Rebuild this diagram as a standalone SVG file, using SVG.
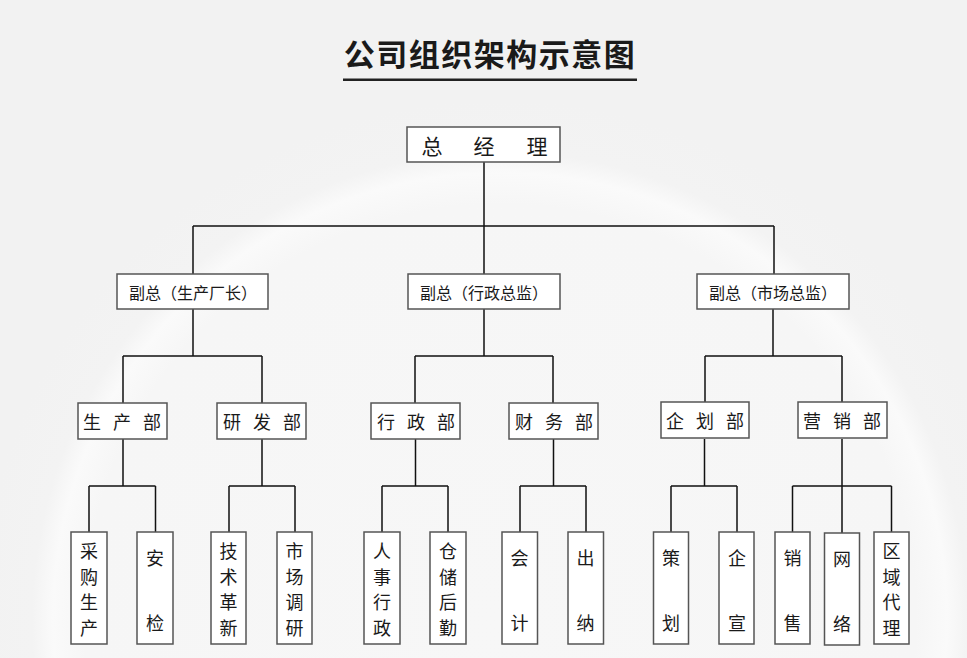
<svg xmlns="http://www.w3.org/2000/svg" width="967" height="658" viewBox="0 0 967 658">
<defs>
<radialGradient id="bg" cx="500" cy="620" r="520" gradientUnits="userSpaceOnUse">
<stop offset="0" stop-color="#f7f7f7"/>
<stop offset="0.8" stop-color="#f6f6f6"/>
<stop offset="0.86" stop-color="#fafafa"/>
<stop offset="0.9" stop-color="#f3f3f3"/>
<stop offset="1" stop-color="#f2f2f2"/>
</radialGradient>
<style>
.box{fill:#ffffff;stroke:#555555;stroke-width:1.5}
.t{font-family:"Noto Sans CJK SC","Noto Sans",sans-serif;fill:#1a1a1a;text-anchor:middle;dominant-baseline:central}
.top{font-size:21px}
.vp{font-size:16px}
.dp{font-size:18px}
.lf{font-size:18px}
.ln{fill:none;stroke:#111111;stroke-width:1.5}
</style>
</defs>
<rect x="0" y="0" width="967" height="658" fill="url(#bg)"/>
<g id="title">
<text x="490" y="52" class="t" style="font-size:31px;font-weight:bold;letter-spacing:1.5px" fill="#222">公司组织架构示意图</text>
<rect x="343" y="78.5" width="294" height="2.5" fill="#222"/>
</g>
<g id="connectors">
<path class="ln" d="M484 162V226M193 226H774M193 226V274M484 226V274M774 226V274"/>
<path class="ln" d="M193 309V356M123 356H262M123 356V403M262 356V403"/>
<path class="ln" d="M484 309V356M415 356H553M415 356V403M553 356V403"/>
<path class="ln" d="M773 309V356M705 356H842M705 356V403M842 356V403"/>
<path class="ln" d="M123 439V486M89 486H155.5M89 486V532M155.5 486V532"/>
<path class="ln" d="M262 439V486M229 486H295M229 486V532M295 486V532"/>
<path class="ln" d="M415.5 439V486M382 486H448M382 486V532M448 486V532"/>
<path class="ln" d="M553.5 439V486M520 486H586M520 486V532M586 486V532"/>
<path class="ln" d="M704.5 439V486M671 486H737M671 486V532M737 486V532"/>
<path class="ln" d="M842 439V486M792.5 486H891.5M792.5 486V532M842 486V533M891.5 486V532"/>
</g>
<g id="gm"><rect class="box" x="407" y="127" width="153" height="35"/><text class="t top" x="432 484 537" y="145">总经理</text></g>
<g id="vp1"><rect class="box" x="117" y="274" width="151" height="35"/><text class="t vp" x="193" y="292">副总（生产厂长）</text></g>
<g id="vp2"><rect class="box" x="408" y="274" width="152" height="35"/><text class="t vp" x="484" y="292">副总（行政总监）</text></g>
<g id="vp3"><rect class="box" x="697" y="274" width="152" height="35"/><text class="t vp" x="773" y="292">副总（市场总监）</text></g>
<g id="d1"><rect class="box" x="78" y="403" width="89" height="36"/><text class="t dp" x="92 122 152" y="421">生产部</text></g>
<g id="d2"><rect class="box" x="217" y="403" width="89" height="36"/><text class="t dp" x="232 262 292" y="421">研发部</text></g>
<g id="d3"><rect class="box" x="371" y="403" width="89" height="36"/><text class="t dp" x="386 416 446" y="421">行政部</text></g>
<g id="d4"><rect class="box" x="509" y="403" width="89" height="36"/><text class="t dp" x="524 554 584" y="421">财务部</text></g>
<g id="d5"><rect class="box" x="661" y="402" width="88" height="36"/><text class="t dp" x="675 705 735" y="420">企划部</text></g>
<g id="d6"><rect class="box" x="798" y="402" width="89" height="36"/><text class="t dp" x="812 842 872" y="420">营销部</text></g>
<g id="l1"><rect class="box" x="71" y="532" width="36" height="112"/><text class="t lf" x="89" y="550">采</text><text class="t lf" x="89" y="575.5">购</text><text class="t lf" x="89" y="601">生</text><text class="t lf" x="89" y="626.5">产</text></g>
<g id="l2"><rect class="box" x="137" y="532" width="36" height="112"/><text class="t lf" x="155" y="557">安</text><text class="t lf" x="155" y="622">检</text></g>
<g id="l3"><rect class="box" x="211" y="532" width="35" height="112"/><text class="t lf" x="228.5" y="550">技</text><text class="t lf" x="228.5" y="575.5">术</text><text class="t lf" x="228.5" y="601">革</text><text class="t lf" x="228.5" y="626.5">新</text></g>
<g id="l4"><rect class="box" x="277" y="532" width="35" height="112"/><text class="t lf" x="294.5" y="550">市</text><text class="t lf" x="294.5" y="575.5">场</text><text class="t lf" x="294.5" y="601">调</text><text class="t lf" x="294.5" y="626.5">研</text></g>
<g id="l5"><rect class="box" x="364" y="532" width="36" height="112"/><text class="t lf" x="382" y="550">人</text><text class="t lf" x="382" y="575.5">事</text><text class="t lf" x="382" y="601">行</text><text class="t lf" x="382" y="626.5">政</text></g>
<g id="l6"><rect class="box" x="430" y="532" width="36" height="112"/><text class="t lf" x="448" y="550">仓</text><text class="t lf" x="448" y="575.5">储</text><text class="t lf" x="448" y="601">后</text><text class="t lf" x="448" y="626.5">勤</text></g>
<g id="l7"><rect class="box" x="502" y="532" width="35.5" height="112"/><text class="t lf" x="519.5" y="557">会</text><text class="t lf" x="519.5" y="622">计</text></g>
<g id="l8"><rect class="box" x="568" y="532" width="35.5" height="112"/><text class="t lf" x="585.5" y="557">出</text><text class="t lf" x="585.5" y="622">纳</text></g>
<g id="l9"><rect class="box" x="653.5" y="532" width="35" height="112"/><text class="t lf" x="671" y="557">策</text><text class="t lf" x="671" y="622">划</text></g>
<g id="l10"><rect class="box" x="719" y="532" width="35" height="112"/><text class="t lf" x="737" y="557">企</text><text class="t lf" x="737" y="622">宣</text></g>
<g id="l11"><rect class="box" x="775" y="532" width="35" height="112"/><text class="t lf" x="792.5" y="557">销</text><text class="t lf" x="792.5" y="622">售</text></g>
<g id="l12"><rect class="box" x="824.5" y="533" width="35" height="112"/><text class="t lf" x="842" y="558">网</text><text class="t lf" x="842" y="623">络</text></g>
<g id="l13"><rect class="box" x="874" y="532" width="35" height="112"/><text class="t lf" x="891.5" y="550">区</text><text class="t lf" x="891.5" y="575.5">域</text><text class="t lf" x="891.5" y="601">代</text><text class="t lf" x="891.5" y="626.5">理</text></g>
</svg>
